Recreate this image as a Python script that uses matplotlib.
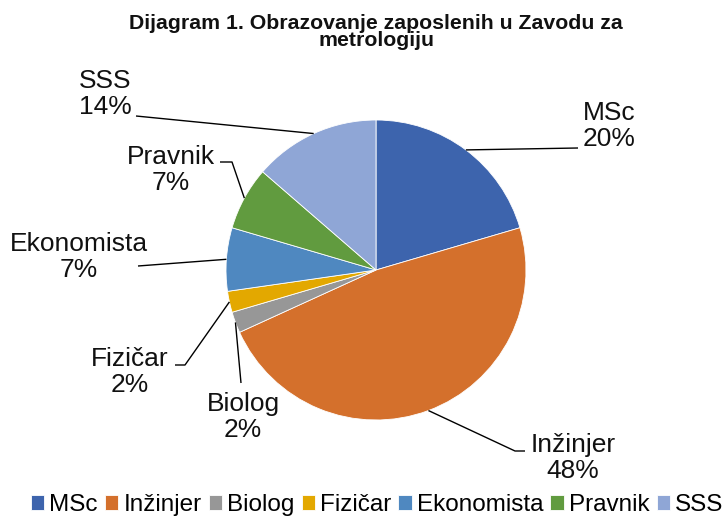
import matplotlib
matplotlib.use("Agg")
import matplotlib.pyplot as plt
import numpy as np

plt.rcParams['font.family'] = ['Liberation Sans', 'DejaVu Sans']

# ---- data ----
categories = ["MSc", "Inžinjer", "Biolog", "Fizičar", "Ekonomista", "Pravnik", "SSS"]
counts = [9, 21, 1, 1, 3, 3, 6]
colors = ["#3D64AD", "#D4702C", "#979797", "#E3A800", "#4F88C0", "#619B3F", "#8FA6D6"]
title = "Dijagram 1. Obrazovanje zaposlenih u Zavodu za\nmetrologiju"

W, H = 724, 516
fig = plt.figure(figsize=(W / 100, H / 100), dpi=100)
ax = fig.add_axes([0, 0, 1, 1])

def Y(y):
    return H - y

cx, cy, R = 376, 270, 150
wedges, _ = ax.pie(counts, colors=colors, startangle=90, counterclock=False,
                   center=(cx, Y(cy)), radius=R,
                   wedgeprops=dict(edgecolor='white', linewidth=0.6))
ax.set_xlim(0, W)
ax.set_ylim(0, H)
ax.set_aspect('equal')
ax.axis('off')

total = sum(counts)
pcts = [f"{round(100 * c / total):d}%" for c in counts]

# label layout (pixel coords, top origin): text centre, leader path points after the wedge edge
label_pos = {
    "MSc": (609, 126, [(578, 148)]),
    "Inžinjer": (573, 458, [(515, 451), (525, 451)]),
    "Biolog": (243, 417, [(241, 383)]),
    "Fizičar": (130, 372, [(185, 365), (175, 365)]),
    "Ekonomista": (79, 257, [(138, 266)]),
    "Pravnik": (171, 170, [(232, 162), (220, 162)]),
    "SSS": (105, 94, [(136, 116)]),
}

for w, cat, pct in zip(wedges, categories, pcts):
    ang = np.deg2rad((w.theta1 + w.theta2) / 2)
    ex, ey = cx + R * np.cos(ang), Y(cy) + R * np.sin(ang)
    tx, ty, path = label_pos[cat]
    xs = [ex] + [p[0] for p in path]
    ys = [ey] + [Y(p[1]) for p in path]
    ax.plot(xs, ys, color='black', lw=1.0, solid_capstyle='butt')
    ax.text(tx, Y(ty), f"{cat}\n{pct}", ha='center', va='center',
            fontsize=19, color='#111111', linespacing=1.1)

fig.text(376 / W, 1 - 32 / H, title, ha='center', va='center',
         fontsize=15.3, fontweight='bold', color='#111111', linespacing=0.9)

fig.legend(wedges, categories, loc='center left',
           bbox_to_anchor=(31 / W, 1 - 505 / H), ncol=7, frameon=False,
           fontsize=17.5, handlelength=0.55, handleheight=0.55,
           handletextpad=0.2, columnspacing=0.3, borderpad=0, borderaxespad=0)

fig.savefig("out.png", dpi=100)
